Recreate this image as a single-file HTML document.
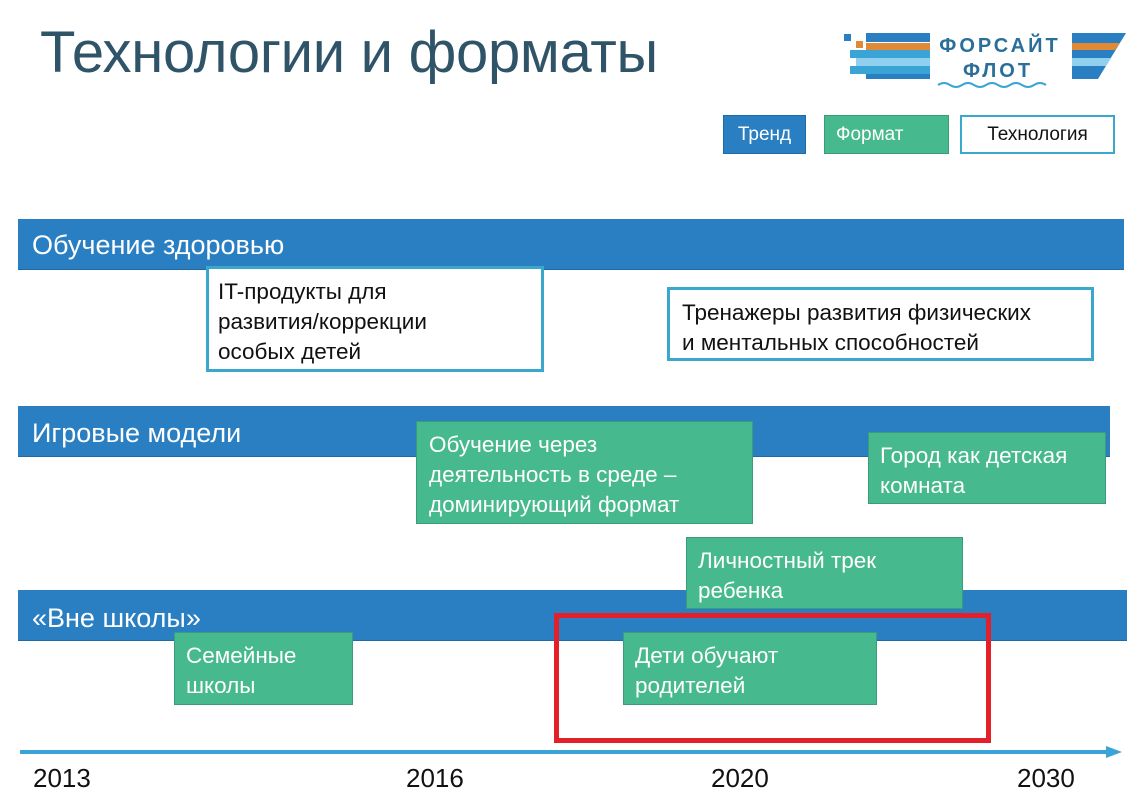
<!DOCTYPE html>
<html><head><meta charset="utf-8"><style>
body{margin:0;width:1131px;height:808px;background:#fff;position:relative;overflow:hidden;font-family:"Liberation Sans",sans-serif;}
.a{position:absolute;box-sizing:border-box;}
.bar{background:#2a7fc2;color:#fff;font-size:27px;padding-left:14px;border-bottom:1px solid #1f6aa3;}
.g{background:#47b98f;border:1px solid #3a9c78;color:#fff;font-size:22.5px;line-height:30px;padding:8px 0 0 11px;}
.w{background:#fff;border:3px solid #3aa8cc;color:#111;font-size:22.5px;line-height:30px;padding:8px 0 0 9px;}
.yr{font-size:26px;color:#111;top:763px;}
</style></head><body>
<div class="a" style="left:40px;top:19px;font-size:58px;color:#2f5468;letter-spacing:-0.3px;">Технологии и форматы</div>

<svg class="a" style="left:840px;top:28px" width="290" height="60" viewBox="0 0 290 60">
<rect x="4" y="6" width="7" height="7" fill="#2a7fc2"/>
<rect x="26" y="5" width="64" height="9" fill="#2a7fc2"/>
<rect x="16" y="13" width="7" height="7" fill="#e08a35"/>
<rect x="26" y="15" width="64" height="7" fill="#e08a35"/>
<rect x="10" y="22" width="80" height="8" fill="#3aa4d6"/>
<rect x="16" y="30" width="74" height="8" fill="#8fd0ee"/>
<rect x="10" y="38" width="80" height="8" fill="#3aa4d6"/>
<rect x="26" y="46" width="64" height="5" fill="#2a7fc2"/>
<text x="160" y="24" text-anchor="middle" font-family="Liberation Sans" font-weight="bold" font-size="20" fill="#2a6e9a" letter-spacing="3">ФОРСАЙТ</text>
<text x="158" y="49" text-anchor="middle" font-family="Liberation Sans" font-weight="bold" font-size="20" fill="#2a6e9a" letter-spacing="3">ФЛОТ</text>
<path d="M98 57 q6 -4 12 0 t12 0 t12 0 t12 0 t12 0 t12 0 t12 0 t12 0 t12 0" fill="none" stroke="#3aa4d6" stroke-width="2"/>
<polygon points="232,5 286,5 258,51 232,51" fill="#2a7fc2"/>
<polygon points="232,15 280,15 275,22 232,22" fill="#e08a35"/>
<polygon points="232,30 271,30 266,38 232,38" fill="#8fd0ee"/>
</svg>

<div class="a" style="left:723px;top:115px;width:83px;height:39px;background:#2a7fc2;border:1px solid #1f6aa3;color:#fff;font-size:19px;line-height:38px;text-align:center;">Тренд</div>
<div class="a" style="left:824px;top:115px;width:125px;height:39px;background:#47b98f;border:1px solid #3a9c78;color:#fff;font-size:19px;line-height:38px;padding-left:11px;">Формат</div>
<div class="a" style="left:960px;top:115px;width:155px;height:39px;background:#fff;border:2px solid #3aa8cc;color:#111;font-size:19px;line-height:36px;text-align:center;">Технология</div>

<div class="a bar" style="left:18px;top:219px;width:1106px;height:51px;line-height:52px;">Обучение здоровью</div>
<div class="a bar" style="left:18px;top:406px;width:1092px;height:51px;line-height:54px;">Игровые модели</div>
<div class="a bar" style="left:18px;top:590px;width:1109px;height:51px;line-height:56px;">«Вне школы»</div>

<div class="a w" style="left:206px;top:266px;width:338px;height:106px;">IT-продукты для<br>развития/коррекции<br>особых детей</div>
<div class="a w" style="left:667px;top:287px;width:427px;height:74px;padding-left:12px;">Тренажеры развития физических<br>и ментальных способностей</div>

<div class="a g" style="left:416px;top:421px;width:337px;height:103px;padding-left:12px;">Обучение через<br>деятельность в среде –<br>доминирующий формат</div>
<div class="a g" style="left:868px;top:432px;width:238px;height:72px;">Город как детская<br>комната</div>
<div class="a g" style="left:686px;top:537px;width:277px;height:72px;">Личностный трек<br>ребенка</div>
<div class="a g" style="left:174px;top:632px;width:179px;height:73px;">Семейные<br>школы</div>
<div class="a g" style="left:623px;top:632px;width:254px;height:73px;">Дети обучают<br>родителей</div>

<div class="a" style="left:554px;top:613px;width:437px;height:130px;border:5px solid #e3202a;"></div>

<svg class="a" style="left:0;top:742px" width="1131" height="20">
<line x1="20" y1="10" x2="1110" y2="10" stroke="#3aa4d6" stroke-width="4"/>
<polygon points="1106,4 1122,10 1106,16" fill="#3aa4d6"/>
</svg>

<div class="a yr" style="left:33px;">2013</div>
<div class="a yr" style="left:406px;">2016</div>
<div class="a yr" style="left:711px;">2020</div>
<div class="a yr" style="left:1017px;">2030</div>
</body></html>
